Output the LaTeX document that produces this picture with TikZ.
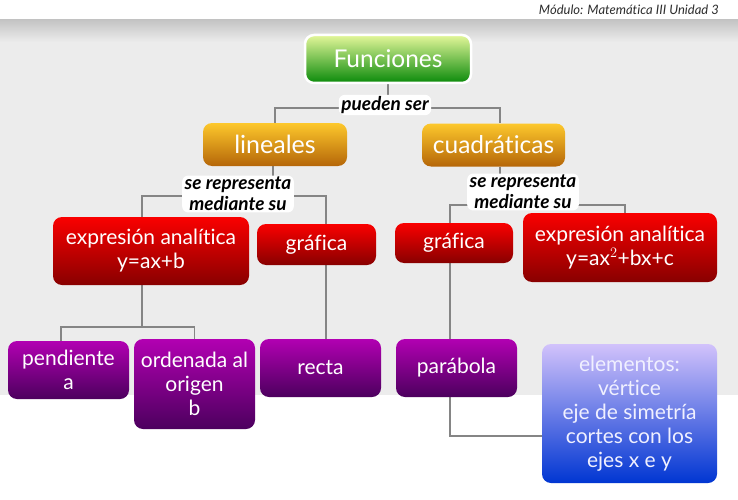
\documentclass[tikz,border=0pt]{standalone}
\usepackage{fontspec}
\setmainfont{Lato}[Ligatures=NoCommon]
\usetikzlibrary{calc}
\definecolor{bgc}{HTML}{ECECEC}
\definecolor{shd}{HTML}{C4C4C4}
\definecolor{lnc}{HTML}{858585}
\definecolor{gtop}{HTML}{E4F79A}
\definecolor{gbot}{HTML}{0A8A0A}
\definecolor{otop}{HTML}{FDC82C}
\definecolor{obot}{HTML}{B56608}
\definecolor{rtop}{HTML}{FA0000}
\definecolor{rbot}{HTML}{880000}
\definecolor{ptop}{HTML}{B200B2}
\definecolor{pbot}{HTML}{4C005E}
\definecolor{btop}{HTML}{D2C2FB}
\definecolor{bbot}{HTML}{0036D2}
\definecolor{hdr}{HTML}{2E2E2E}
\pgfdeclarelayer{bgl}
\pgfdeclarelayer{lines}
\pgfsetlayers{bgl,lines,main}
\begin{document}
\begin{tikzpicture}[x=1pt,y=-1pt,
  box/.style={rounded corners=9pt, text=white, align=center, inner sep=0pt,
    font=\fontsize{21}{24}\selectfont},
  green/.style={box, top color=gtop, bottom color=gbot},
  orange/.style={box, top color=otop, bottom color=obot},
  red/.style={box, top color=rtop, bottom color=rbot},
  purple/.style={box, top color=ptop, bottom color=pbot},
  blue/.style={box, top color=btop, bottom color=bbot, text=white!94!blue},
  conn/.style={draw=lnc, line width=1.8pt},
  lbl/.style={font=\itshape\bfseries\fontsize{19}{21}\selectfont, align=center,
    inner xsep=2.5pt, inner ysep=1.5pt, text=black, fill=white, rounded corners=6pt}]
\useasboundingbox (0,0) rectangle (738,500);
\begin{pgfonlayer}{bgl}
  \fill[white] (0,0) rectangle (738,500);
  \fill[bgc] (0,20) rectangle (738,395);
  \shade[top color=shd, bottom color=bgc] (0,20) rectangle (738,42);
\end{pgfonlayer}
\node[anchor=east, font=\itshape\fontsize{13}{15}\selectfont, text=hdr, inner sep=0pt] (hd) at (719,10) {Módulo: Matemática III Unidad 3};

\node[green, minimum width=166, minimum height=48, draw=white, line width=2.5pt,
  font=\fontsize{24.5}{28}\selectfont] (fun) at (388,59) {Funciones};
\node[orange, minimum width=144, minimum height=43, font=\fontsize{25}{28}\selectfont] (lin) at (275,144.5) {lineales};
\node[orange, minimum width=143, minimum height=43, font=\fontsize{24.5}{28}\selectfont] (cua) at (493.5,145) {cuadráticas};

\node[red, minimum width=196, minimum height=68] (exl) at (151,251) {expresión analítica\\y=ax+b};
\node[red, minimum width=119, minimum height=41] (grl) at (316.5,244.5) {gráfica};
\node[red, minimum width=118, minimum height=40] (grr) at (454,243) {gráfica};
\node[red, minimum width=194, minimum height=69] (exr) at (620,247.5) {expresión analítica\\y=ax$^{2}$+bx+c};

\node[purple, minimum width=121, minimum height=58] (pen) at (68.5,370) {pendiente\\a};
\node[purple, minimum width=121, minimum height=90] (ord) at (194.5,384) {ordenada al\\origen\\b};
\node[purple, minimum width=121, minimum height=58] (rec) at (320.5,368) {recta};
\node[purple, minimum width=121, minimum height=58] (par) at (456.5,368) {parábola};
\node[blue, minimum width=175, minimum height=139, font=\fontsize{21}{24}\selectfont] (ele) at (629.5,413.5)
  {elementos:\\vértice\\eje de simetría\\cortes con los\\ejes x e y};

\begin{pgfonlayer}{lines}
  \draw[conn] (fun.south) -- (fun.south |- 0,108) -| (lin.north);
  \draw[conn] (fun.south |- 0,108) -| ([xshift=6.5pt]cua.north);
  \draw[conn] ([xshift=-2pt]lin.south) -- ([xshift=-2pt]lin.south |- 0,196) -| ([xshift=-9pt]exl.north);
  \draw[conn] ([xshift=-2pt]lin.south |- 0,196) -| ([xshift=9.5pt]grl.north);
  \draw[conn] ([xshift=6.5pt]cua.south) -- ([xshift=6.5pt]cua.south |- 0,205) -| ([xshift=-4pt]grr.north);
  \draw[conn] ([xshift=6.5pt]cua.south |- 0,205) -| ([xshift=5pt]exr.north);
  \draw[conn] ([xshift=-9pt]exl.south) -- ([xshift=-9pt]exl.south |- 0,327) -| ([xshift=-7.5pt]pen.north);
  \draw[conn] ([xshift=-9pt]exl.south |- 0,327) -| (ord.north);
  \draw[conn] ([xshift=9.5pt]grl.south) -- ([xshift=5.5pt]rec.north);
  \draw[conn] ([xshift=-4pt]grr.south) -- ([xshift=-6.5pt]par.north);
  \draw[conn] ([xshift=-6.5pt]par.south) |- (ele.west |- 0,436);
\end{pgfonlayer}

\node[lbl] (l1) at (385,105) {pueden ser};
\node[lbl] (l2) at (238,194) {se representa\\mediante su};
\node[lbl] (l3) at (523,192) {se representa\\mediante su};
\end{tikzpicture}
\end{document}
